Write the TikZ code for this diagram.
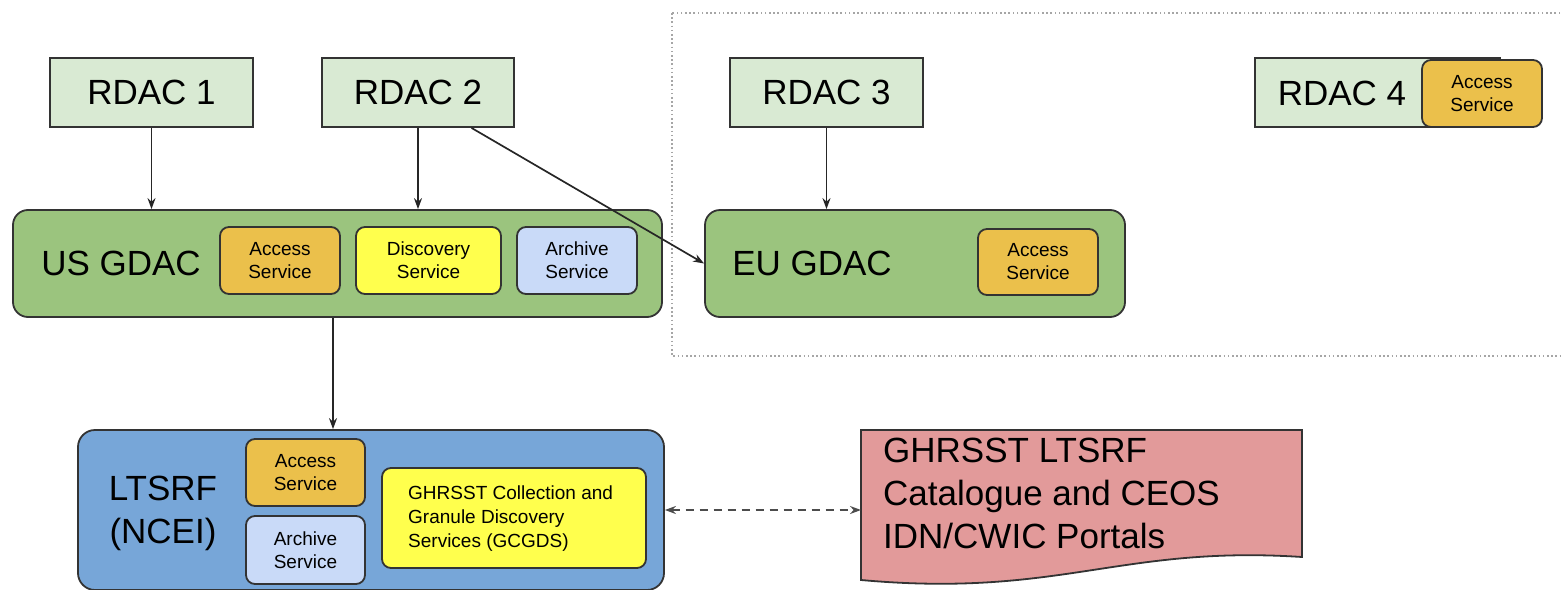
\documentclass[tikz,border=0pt]{standalone}
\usepackage{fontspec}
\setmainfont{Liberation Sans}
\usetikzlibrary{calc,arrows.meta}
\definecolor{rdacgreen}{HTML}{D9EAD3}
\definecolor{gdacgreen}{HTML}{9BC47E}
\definecolor{accessor}{HTML}{EBC04B}
\definecolor{discyel}{HTML}{FFFF4D}
\definecolor{archblue}{HTML}{C9DAF8}
\definecolor{ltblue}{HTML}{77A6D8}
\definecolor{docpink}{HTML}{E29A9A}
\definecolor{edge}{HTML}{333333}
\tikzset{
  bigtxt/.style={font=\fontsize{35}{43}\selectfont},
  smalltxt/.style={font=\fontsize{19}{23}\selectfont},
  rdac/.style={draw=edge, line width=1.8pt, fill=rdacgreen, inner sep=0pt, bigtxt},
  gdac/.style={draw=edge, line width=1.8pt, fill=gdacgreen, rounded corners=15pt, inner sep=0pt},
  svc/.style={draw=edge, line width=1.8pt, rounded corners=9pt, inner sep=0pt, smalltxt, align=center},
  conn/.style={line width=1.7pt, draw=black!85, -{Stealth[length=11pt,width=8pt]}},
}
\begin{document}
\begin{tikzpicture}[x=1pt,y=-1pt]
\useasboundingbox (0,0) rectangle (1563,589);
% dotted group
\draw[gray!70, line width=1.8pt, dash pattern=on 1.6pt off 2.6pt] (672,13) rectangle (1590,356);

% RDAC boxes
\node[rdac, minimum width=203pt, minimum height=69pt] (r1) at (151.5,92.5) {RDAC 1};
\node[rdac, minimum width=192pt, minimum height=69pt] (r2) at (418,92.5) {RDAC 2};
\node[rdac, minimum width=193pt, minimum height=69pt] (r3) at (826.5,92.5) {RDAC 3};
\node[rdac, minimum width=245pt, minimum height=69pt] (r4) at (1377.5,92.5) {};
\node[bigtxt, inner sep=0pt] (r4t) at (1342,93) {RDAC 4};
\node[svc, fill=accessor, minimum width=120pt, minimum height=67pt] (r4a) at (1482,93.5) {Access\\Service};

% US GDAC
\node[gdac, minimum width=649pt, minimum height=107pt] (usg) at (337.5,263.5) {};
\node[bigtxt, inner sep=0pt] (usgt) at (121,263) {US GDAC};
\node[svc, fill=accessor, minimum width=120pt, minimum height=67pt] (usa) at (280,260.5) {Access\\Service};
\node[svc, fill=discyel, minimum width=145pt, minimum height=67pt] (usd) at (428.5,260.5) {Discovery\\Service};
\node[svc, fill=archblue, minimum width=120pt, minimum height=67pt] (usr) at (577,260.5) {Archive\\Service};

% EU GDAC
\node[gdac, minimum width=420pt, minimum height=107pt] (eug) at (915,263.5) {};
\node[bigtxt, inner sep=0pt] (eugt) at (812,263) {EU GDAC};
\node[svc, fill=accessor, minimum width=120pt, minimum height=66pt] (eua) at (1038,262) {Access\\Service};

% LTSRF
\node[draw=edge, line width=1.8pt, fill=ltblue, rounded corners=17pt, minimum width=586pt, minimum height=160pt, inner sep=0pt] (lt) at (371,510) {};
\node[bigtxt, inner sep=0pt, align=center] (ltt) at (163,513) {LTSRF\\(NCEI)};
\node[svc, fill=accessor, minimum width=119pt, minimum height=67pt] (lta) at (305.5,472.5) {Access\\Service};
\node[svc, fill=archblue, minimum width=119pt, minimum height=68pt] (ltr) at (305.5,550) {Archive\\Service};
\node[svc, fill=discyel, minimum width=264pt, minimum height=100pt] (ltg) at (514,518) {};
\node[inner sep=0pt, align=left, anchor=west, font=\fontsize{19}{24}\selectfont] (ltgt) at (408,519) {GHRSST Collection and\\Granule Discovery\\Services (GCGDS)};

% document shape
\coordinate (docnw) at (861,430);
\coordinate (docw) at (861,510);
\draw[draw=edge, line width=1.8pt, fill=docpink] (docnw) -- (1302,430) -- (1302,557)
  .. controls (1120,545) and (1060,598) .. (861,580) -- cycle;
\node[bigtxt, inner sep=0pt, align=left, anchor=west] (doct) at (883,493) {GHRSST LTSRF\\Catalogue and CEOS\\IDN/CWIC Portals};

% connectors
\draw[conn] (r1.south) -- (r1.south |- usg.north);
\draw[conn] (r2.south) -- (r2.south |- usg.north);
\draw[conn] ($(r2.south west)!0.776!(r2.south east)$) -- (eug.west);
\draw[conn] (r3.south) -- (r3.south |- eug.north);
\draw[conn] (usg.south -| 333,0) -- (lt.north -| 333,0);
\draw[line width=1.7pt, draw=black!70, dash pattern=on 8pt off 6pt, {Stealth[length=11pt,width=8pt]}-{Stealth[length=11pt,width=8pt]}] (lt.east) -- (docw);
\end{tikzpicture}
\end{document}
